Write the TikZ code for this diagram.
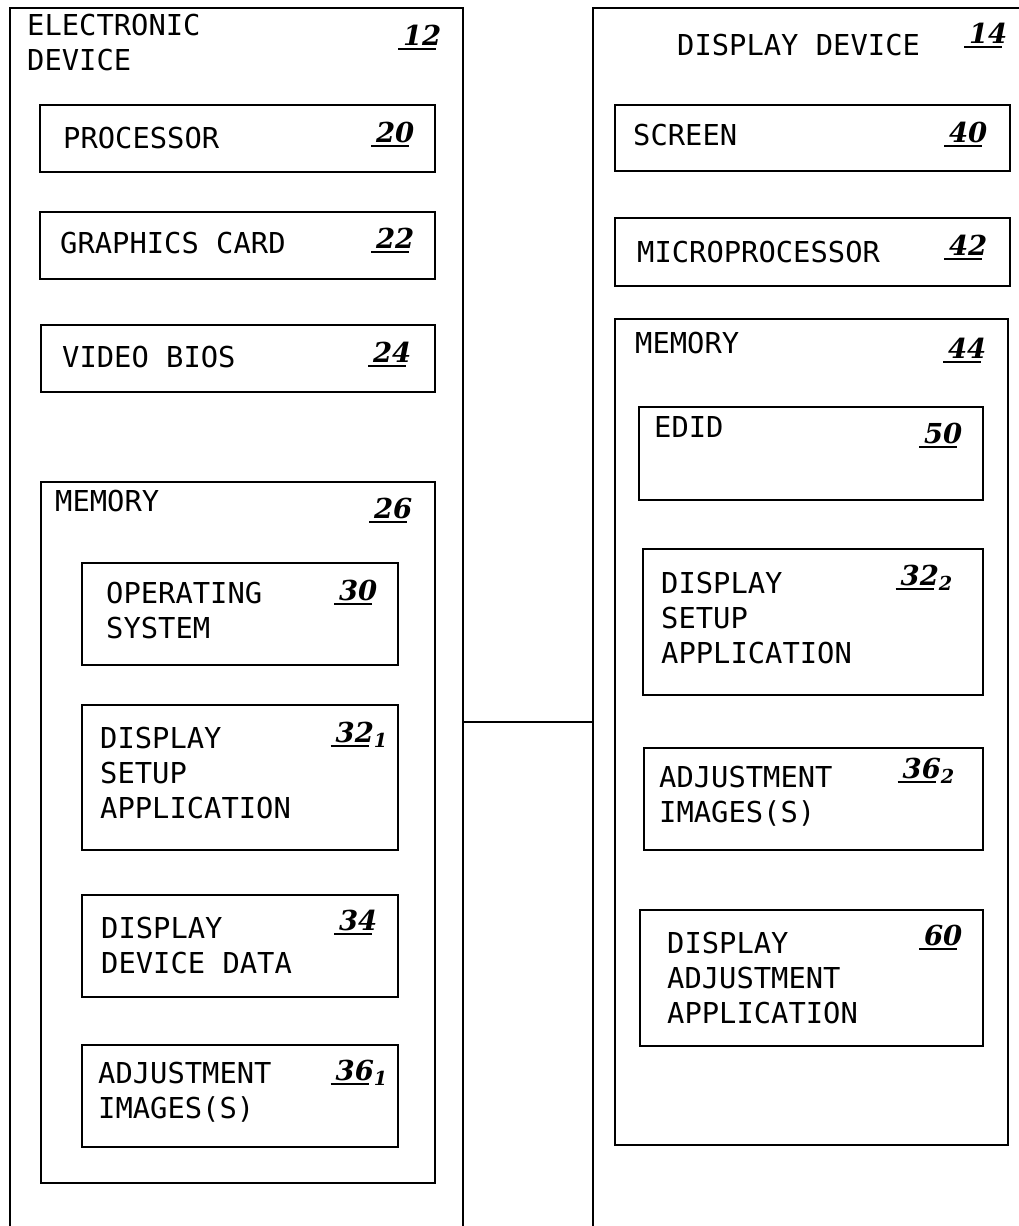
\documentclass[tikz,border=0pt]{standalone}
\usepackage{fontspec}
\newfontfamily\boxfont{DejaVu Sans Mono}
\newfontfamily\numfamily{DejaVu Serif}
\usetikzlibrary{positioning}

\newsavebox{\refbox}
\newcommand{\refno}[2][]{\sbox{\refbox}{#2}\rlap{\kern-5pt\rule[-5pt]{\wd\refbox}{1.8pt}}#2\textsubscript{#1}}

\begin{document}
\begin{tikzpicture}[x=1pt, y=-1pt,
  box/.style={draw, line width=2.6pt, inner sep=0pt, outer sep=0pt, anchor=north west},
  txt/.style={font=\boxfont\fontsize{28.8}{35}\selectfont, align=left, inner sep=0pt, anchor=north west},
  num/.style={font=\numfamily\fontsize{27.5}{35}\selectfont\bfseries\itshape, inner sep=0pt, anchor=base east}]
  \useasboundingbox (0,0) rectangle (1019,1226);
  \clip (0,0) rectangle (1019,1226);
  % electronic device
  \node[box, minimum width=453, minimum height=1300] (elec) at (10,8) {};
  \node[txt] (elecT) at (27,14) {ELECTRONIC\\DEVICE};
  \node[num] (elecN) at (442,45) {\refno{12}};
  \node[box, minimum width=395, minimum height=67] (proc) at (40,105) {};
  \node[txt] (procT) at (63,127) {PROCESSOR};
  \node[num] (procN) at (415,142) {\refno{20}};
  \node[box, minimum width=395, minimum height=67] (gfx) at (40,212) {};
  \node[txt] (gfxT) at (60,232) {GRAPHICS CARD};
  \node[num] (gfxN) at (415,248) {\refno{22}};
  \node[box, minimum width=394, minimum height=67] (bios) at (41,325) {};
  \node[txt] (biosT) at (62,346) {VIDEO BIOS};
  \node[num] (biosN) at (412,362) {\refno{24}};
  \node[box, minimum width=394, minimum height=701] (mem) at (41,482) {};
  \node[txt] (memT) at (55,490) {MEMORY};
  \node[num] (memN) at (413,518) {\refno{26}};
  \node[box, minimum width=316, minimum height=102] (os) at (82,563) {};
  \node[txt] (osT) at (106,582) {OPERATING\\SYSTEM};
  \node[num] (osN) at (378,600) {\refno{30}};
  \node[box, minimum width=316, minimum height=145] (setup) at (82,705) {};
  \node[txt] (setupT) at (100,727) {DISPLAY\\SETUP\\APPLICATION};
  \node[num] (setupN) at (388,742) {\refno[1]{32}};
  \node[box, minimum width=316, minimum height=102] (ddata) at (82,895) {};
  \node[txt] (ddataT) at (101,917) {DISPLAY\\DEVICE DATA};
  \node[num] (ddataN) at (378,930) {\refno{34}};
  \node[box, minimum width=316, minimum height=102] (adj) at (82,1045) {};
  \node[txt] (adjT) at (98,1062) {ADJUSTMENT\\IMAGES(S)};
  \node[num] (adjN) at (388,1080) {\refno[1]{36}};
  % display device
  \node[box, minimum width=450, minimum height=1300] (disp) at (593,8) {};
  \node[txt] (dispT) at (677,34) {DISPLAY DEVICE};
  \node[num] (dispN) at (1008,43) {\refno{14}};
  \node[box, minimum width=395, minimum height=66] (scr) at (615,105) {};
  \node[txt] (scrT) at (633,124) {SCREEN};
  \node[num] (scrN) at (988,142) {\refno{40}};
  \node[box, minimum width=395, minimum height=68] (mproc) at (615,218) {};
  \node[txt] (mprocT) at (637,241) {MICROPROCESSOR};
  \node[num] (mprocN) at (988,255) {\refno{42}};
  \node[box, minimum width=393, minimum height=826] (dmem) at (615,319) {};
  \node[txt] (dmemT) at (635,332) {MEMORY};
  \node[num] (dmemN) at (987,358) {\refno{44}};
  \node[box, minimum width=344, minimum height=93] (edid) at (639,407) {};
  \node[txt] (edidT) at (654,416) {EDID};
  \node[num] (edidN) at (963,443) {\refno{50}};
  \node[box, minimum width=340, minimum height=146] (setup2) at (643,549) {};
  \node[txt] (setup2T) at (661,572) {DISPLAY\\SETUP\\APPLICATION};
  \node[num] (setup2N) at (953,585) {\refno[2]{32}};
  \node[box, minimum width=339, minimum height=102] (adj2) at (644,748) {};
  \node[txt] (adj2T) at (659,766) {ADJUSTMENT\\IMAGES(S)};
  \node[num] (adj2N) at (955,778) {\refno[2]{36}};
  \node[box, minimum width=343, minimum height=136] (dadj) at (640,910) {};
  \node[txt] (dadjT) at (667,932) {DISPLAY\\ADJUSTMENT\\APPLICATION};
  \node[num] (dadjN) at (963,945) {\refno{60}};
  % link between the two devices
  \coordinate (bus) at (0,722);
  \draw[line width=2.6pt] (elec.east |- bus) -- (disp.west |- bus);
\end{tikzpicture}
\end{document}
